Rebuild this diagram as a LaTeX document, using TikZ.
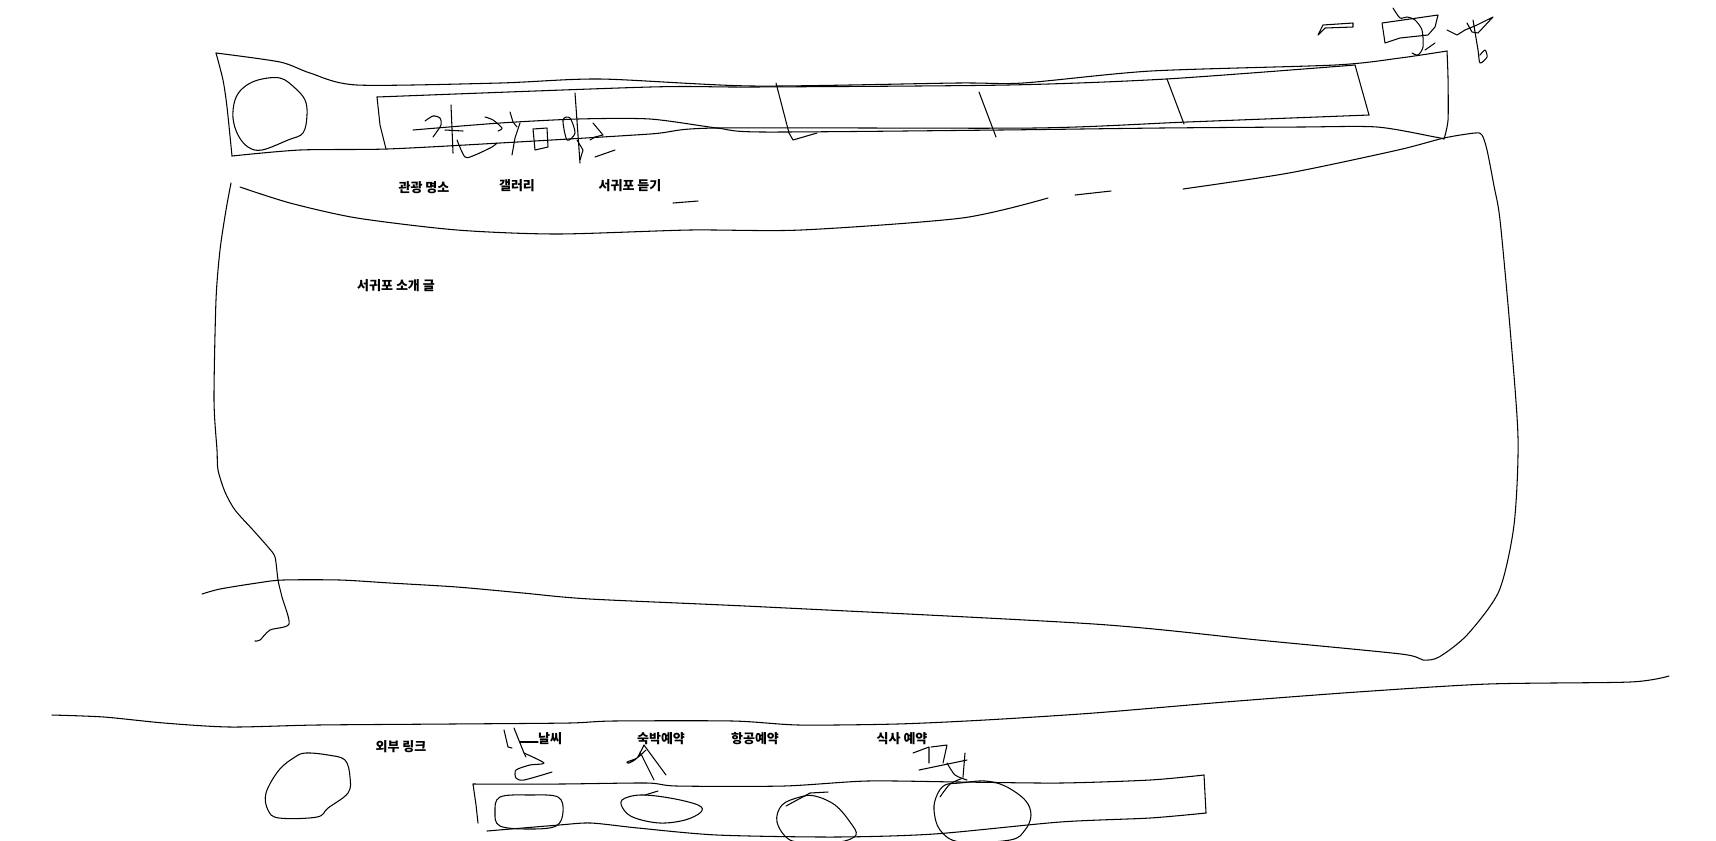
\documentclass[tikz,border=0pt]{standalone}
\usepackage{fontspec}
\newfontfamily\kr{Noto Sans CJK KR}

\begin{document}
\begin{tikzpicture}[x=0.02cm,y=-0.02cm,line width=0.6pt,line join=round,line cap=round,
  sketch/.style={smooth,tension=0.45},
  menu/.style={font=\kr\bfseries\fontsize{7.4}{9}\selectfont,inner sep=0pt}]
\useasboundingbox (0,0) rectangle (1716,840);
% header band
\draw plot[sketch] coordinates {(216,53) (280,62) (310,73) (357,85) (500,83) (600,79) (753,86) (957,83) (1023,83) (1151,71) (1335,65) (1400,58) (1447,51)};
\draw plot[sketch] coordinates {(216,53) (223,80) (227,107) (232,156)};
\draw plot[sketch] coordinates {(1447,51) (1448,78) (1448,120) (1444,139)};
\draw plot[sketch] coordinates {(232,156) (300,150) (387,149) (500,143) (650,134) (717,128) (1034,128) (1187,122) (1369,115)};
\draw plot[sketch] coordinates {(413,130) (500,123) (578,119) (650,119) (717,128) (763,132) (1000,130) (1161,128) (1300,127) (1377,127) (1435,137) (1444,139)};
% logo
\draw plot[smooth cycle,tension=0.6] coordinates {(258,80) (280,78) (295,88) (305,100) (307,115) (303,133) (288,140) (262,150) (248,147) (238,135) (233,118) (235,100) (243,88)};
% menu bar
\draw plot[sketch] coordinates {(377,97) (650,87) (753,87) (1008,85) (1166,79) (1355,65)};
\draw (377,97) -- (380,125) -- (386,149);
\draw (1355,65) -- (1362,90) -- (1369,115);
\draw (776,83) -- (789,133) -- (793,140) -- (817,133);
\foreach \a/\b in {979/92, 1167/79}
  \draw (\a,\b) -- ++(17,45);
% scribbles in the menu bar
\draw plot[sketch] coordinates {(425,121) (433,116) (440,118) (441,125) (433,137)};
\draw (451,105) -- (453,153);
\draw (445,130) -- (463,131);
\draw plot[sketch] coordinates {(457,140) (465,157) (475,155) (492,147) (497,143)};
\draw plot[sketch] coordinates {(485,117) (493,120) (502,128) (498,131)};
\draw (510,112) -- (513,122) -- (517,127);
\draw (520,123) -- (515,138) -- (512,155);
\draw (533,129) -- (547,128) -- (548,147) -- (535,150) -- cycle;
\draw (575,93) -- (580,163);
\draw plot[smooth cycle,tension=0.5] coordinates {(563,120) (570,118) (575,133) (567,140)};
\draw (593,123) -- (603,135) -- (595,137) -- (590,140);
\draw (595,157) -- (615,150);
\draw (577,140) -- (583,150) -- (580,160);
% scribbles top right
\draw (1318,35) -- (1323,25) -- (1353,23) -- (1353,27) -- (1325,28) -- cycle;
\draw (1382,23) -- (1438,15) -- (1435,27) -- (1428,35) -- (1400,38) -- (1385,43) -- cycle;
\draw plot[sketch] coordinates {(1393,8) (1400,18) (1407,17) (1415,20) (1422,30) (1423,47) (1418,55) (1412,53)};
\draw (1425,50) -- (1435,43);
\draw (1447,30) -- (1457,35) -- (1465,30) -- (1477,25) -- (1493,17) -- (1478,33) -- (1472,32) -- (1467,23);
\draw plot[sketch] coordinates {(1473,20) (1478,50) (1480,63) (1487,57) (1485,50) (1480,55)};
% menu labels
\node[menu] (sights) at (424,188) {관광 명소};
\node[menu] (gallery) at (517,186) {갤러리};
\node[menu] (listen) at (630,186) {서귀포 듣기};
% content area
\draw plot[sketch] coordinates {(1183,189) (1289,173) (1398,150) (1444,138) (1475,133) (1482,135) (1487,150) (1494,186) (1500,220) (1510,328) (1518,438) (1514,525) (1499,591) (1467,635) (1439,657) (1423,660) (1401,654) (1258,640) (1094,624) (766,607) (590,599) (523,593) (457,587) (390,583) (340,580) (283,580) (257,583) (220,589) (202,594)};
\draw (1075,195) -- (1111,191);
\draw plot[sketch] coordinates {(1048,198) (962,218) (801,230) (690,230) (557,234) (457,230) (357,218) (290,203) (240,187)};
\draw (673,203) -- (698,201);
\draw plot[sketch] coordinates {(231,183) (226,210) (220,250) (216,300) (214,400) (217,450) (218,470) (225,492) (235,510) (253,530) (268,547) (275,557) (278,580) (282,597) (289,624) (270,630) (260,640) (255,641)};
\node[menu] (intro) at (396,286) {서귀포 소개 글};
% footer
\draw plot[sketch] coordinates {(52,715) (104,717) (164,723) (230,727) (317,725) (450,724) (569,723) (613,721) (733,721) (799,725) (897,724) (985,720) (1094,713) (1225,702) (1357,692) (1488,684) (1630,682) (1669,676)};
\node[menu] (links) at (401,747) {외부 링크};
\node[menu] (weather) at (550,739) {날씨};
\node[menu] (stay) at (661,739) {숙박예약};
\node[menu] (flight) at (755,739) {항공예약};
\node[menu] (meal) at (902,739) {식사 예약};
\draw plot[smooth cycle,tension=0.6] coordinates {(306,753) (328,755) (345,760) (350,777) (348,793) (328,808) (317,817) (279,818) (268,810) (266,793) (279,770) (295,757)};
% link strip
\draw plot[sketch] coordinates {(473,784) (560,784) (647,783) (677,786) (784,786) (867,781) (960,782) (1060,783) (1150,780) (1204,775)};
\draw (1204,775) -- (1206,813);
\draw plot[sketch] coordinates {(1206,813) (1150,818) (1060,822) (934,834) (835,837) (717,835) (638,828) (591,823) (559,825) (487,831)};
\draw (473,784) -- (476,805) -- (478,823);
\draw plot[smooth cycle,tension=0.6] coordinates {(500,797) (530,795) (558,797) (563,812) (556,826) (530,829) (500,826) (495,812)};
\draw plot[smooth cycle,tension=0.6] coordinates {(622,800) (640,795) (670,798) (698,805) (701,812) (685,820) (660,823) (635,818) (624,810)};
\draw (645,795) -- (658,791);
\draw plot[smooth cycle,tension=0.6] coordinates {(800,797) (815,796) (835,805) (850,822) (856,835) (840,842) (815,842) (790,840) (777,822) (782,805)};
\draw (786,806) -- (810,793) -- (828,792);
\draw plot[smooth cycle,tension=0.6] coordinates {(960,783) (985,781) (1005,786) (1025,800) (1031,815) (1025,830) (1010,840) (960,842) (940,830) (934,810) (937,795) (945,785)};
% scribbles in the footer
\draw (504,730) -- (508,747) -- (512,748);
\draw (514,728) -- (524,753) -- (526,757);
\draw (520,742) -- (538,742);
\draw plot[sketch] coordinates {(524,753) (544,763) (530,765) (516,770) (516,778) (524,780) (552,772)};
\draw plot[sketch] coordinates {(646,750) (637,758) (627,762) (629,763) (637,758) (644,745)};
\draw (640,752) -- (654,780);
\draw (644,745) -- (666,775);
\draw (913,753) -- (929,747) -- (929,763);
\draw (931,747) -- (947,745) -- (943,763);
\draw (919,770) -- (967,760);
\draw (965,753) -- (963,777);
\draw plot[sketch] coordinates {(947,763) (955,775) (967,780)};
\draw plot[sketch] coordinates {(963,778) (950,784) (940,797)};
\end{tikzpicture}
\end{document}
